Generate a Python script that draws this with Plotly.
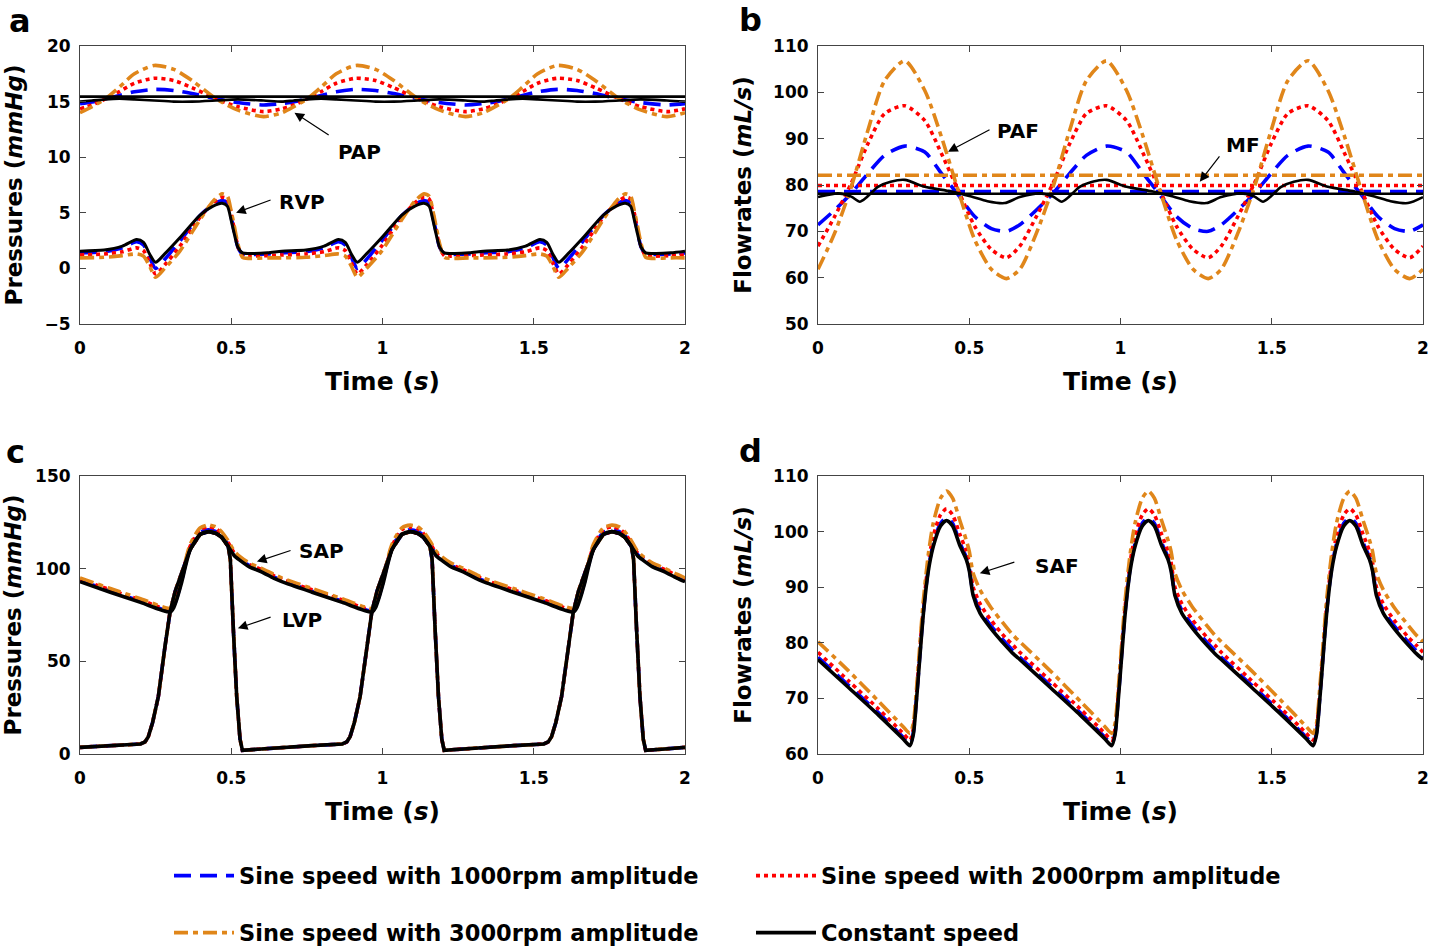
import plotly.graph_objects as go

# ------------------------------------------------------------------ data
# (a) pulmonary arterial pressure PAP (mmHg)
PAP_T = [0, 0.04, 0.084, 0.13, 0.18, 0.245, 0.31, 0.37, 0.45, 0.52, 0.607,
         0.667, 0.707, 0.751, 0.797, 0.847, 0.912, 0.977, 1.037, 1.117, 1.187, 1.274,
         1.333, 1.373, 1.417, 1.463, 1.513, 1.578, 1.643, 1.703, 1.783, 1.853, 1.94,
         2.0]
PAP_1000 = [14.82, 14.97, 15.25, 15.55, 15.88, 16.1, 16.0, 15.72, 15.25, 14.92, 14.7,
            14.82, 14.97, 15.25, 15.55, 15.88, 16.1, 16.0, 15.72, 15.25, 14.92, 14.7,
            14.82, 14.97, 15.25, 15.55, 15.88, 16.1, 16.0, 15.72, 15.25, 14.92, 14.7,
            14.82]
PAP_2000 = [14.35, 14.7, 15.25, 15.9, 16.65, 17.1, 16.9, 16.25, 15.25, 14.55, 14.1,
            14.35, 14.7, 15.25, 15.9, 16.65, 17.1, 16.9, 16.25, 15.25, 14.55, 14.1,
            14.35, 14.7, 15.25, 15.9, 16.65, 17.1, 16.9, 16.25, 15.25, 14.55, 14.1,
            14.35]
PAP_3000 = [14.0, 14.55, 15.25, 16.3, 17.5, 18.25, 17.9, 16.9, 15.25, 14.25, 13.65,
            14.0, 14.55, 15.25, 16.3, 17.5, 18.25, 17.9, 16.9, 15.25, 14.25, 13.65,
            14.0, 14.55, 15.25, 16.3, 17.5, 18.25, 17.9, 16.9, 15.25, 14.25, 13.65,
            14.0]
PAP_CONST = [15.0, 15.1, 15.2, 15.25, 15.2, 15.1, 15.0, 15.0, 15.1, 15.2, 15.1,
             15.0, 15.1, 15.2, 15.25, 15.2, 15.1, 15.0, 15.0, 15.1, 15.2, 15.1,
             15.0, 15.1, 15.2, 15.25, 15.2, 15.1, 15.0, 15.0, 15.1, 15.2, 15.1,
             15.0]
PAP_FLAT_T = [0, 2.0]
PAP_FLAT = [15.45, 15.45]

# (a) right ventricular pressure RVP (mmHg)
RVP_T = [0, 0.08, 0.14, 0.187, 0.21, 0.23, 0.25, 0.28, 0.33, 0.397, 0.44, 0.47, 0.487, 0.5, 0.51, 0.522, 0.537, 0.56, 0.62,
         0.667, 0.747, 0.807, 0.854, 0.877, 0.897, 0.917, 0.947, 0.997, 1.064, 1.107, 1.137, 1.154, 1.167, 1.177, 1.189, 1.204, 1.227, 1.287,
         1.333, 1.413, 1.473, 1.52, 1.543, 1.563, 1.583, 1.613, 1.663, 1.73, 1.773, 1.803, 1.82, 1.833, 1.843, 1.855, 1.87, 1.893, 1.953,
         2.0]
RVP_1000 = [1.4, 1.5, 1.85, 2.4, 2.1, 1.0, 0.0, 0.8, 2.45, 4.75, 5.75, 6.1, 5.9, 4.6, 3.3, 1.9, 1.3, 1.25, 1.3,
            1.4, 1.5, 1.85, 2.4, 2.1, 1.0, 0.0, 0.8, 2.45, 4.75, 5.75, 6.1, 5.9, 4.6, 3.3, 1.9, 1.3, 1.25, 1.3,
            1.4, 1.5, 1.85, 2.4, 2.1, 1.0, 0.0, 0.8, 2.45, 4.75, 5.75, 6.1, 5.9, 4.6, 3.3, 1.9, 1.3, 1.25, 1.3,
            1.4]
RVP_2000 = [1.2, 1.3, 1.5, 1.85, 1.6, 0.5, -0.5, 0.3, 2.0, 4.6, 5.9, 6.4, 6.25, 4.9, 3.5, 2.0, 1.15, 1.1, 1.15,
            1.2, 1.3, 1.5, 1.85, 1.6, 0.5, -0.5, 0.3, 2.0, 4.6, 5.9, 6.4, 6.25, 4.9, 3.5, 2.0, 1.15, 1.1, 1.15,
            1.2, 1.3, 1.5, 1.85, 1.6, 0.5, -0.5, 0.3, 2.0, 4.6, 5.9, 6.4, 6.25, 4.9, 3.5, 2.0, 1.15, 1.1, 1.15,
            1.2]
RVP_3000 = [0.95, 1.0, 1.15, 1.3, 1.1, 0.2, -0.8, 0.0, 1.55, 4.4, 6.05, 6.7, 6.5, 5.1, 3.8, 2.2, 1.0, 0.9, 0.95,
            0.95, 1.0, 1.15, 1.3, 1.1, 0.2, -0.8, 0.0, 1.55, 4.4, 6.05, 6.7, 6.5, 5.1, 3.8, 2.2, 1.0, 0.9, 0.95,
            0.95, 1.0, 1.15, 1.3, 1.1, 0.2, -0.8, 0.0, 1.55, 4.4, 6.05, 6.7, 6.5, 5.1, 3.8, 2.2, 1.0, 0.9, 0.95,
            0.95]
RVP_CONST = [1.55, 1.65, 2.0, 2.6, 2.35, 1.3, 0.55, 1.3, 2.75, 4.8, 5.6, 5.85, 5.6, 4.3, 3.1, 1.9, 1.4, 1.35, 1.4,
             1.55, 1.65, 2.0, 2.6, 2.35, 1.3, 0.55, 1.3, 2.75, 4.8, 5.6, 5.85, 5.6, 4.3, 3.1, 1.9, 1.4, 1.35, 1.4,
             1.55, 1.65, 2.0, 2.6, 2.35, 1.3, 0.55, 1.3, 2.75, 4.8, 5.6, 5.85, 5.6, 4.3, 3.1, 1.9, 1.4, 1.35, 1.4,
             1.55]

# (b) pulmonary arterial flow PAF (mL/s)
PAF_T = [0, 0.055, 0.11, 0.165, 0.22, 0.287, 0.353, 0.408, 0.463, 0.518, 0.573, 0.623,
         0.667, 0.722, 0.777, 0.832, 0.887, 0.954, 1.02, 1.075, 1.13, 1.185, 1.24, 1.29,
         1.333, 1.388, 1.443, 1.498, 1.553, 1.62, 1.686, 1.741, 1.796, 1.851, 1.906, 1.956,
         2.0]
PAF_1000 = [71.4, 74.6, 78.2, 82.5, 86.4, 88.4, 87.1, 82.5, 77.9, 73.2, 70.6, 70.0,
            71.4, 74.6, 78.2, 82.5, 86.4, 88.4, 87.1, 82.5, 77.9, 73.2, 70.6, 70.0,
            71.4, 74.6, 78.2, 82.5, 86.4, 88.4, 87.1, 82.5, 77.9, 73.2, 70.6, 70.0,
            71.4]
PAF_2000 = [66.8, 73.2, 80.4, 88.9, 95.4, 97.1, 93.9, 86.8, 78.9, 71.1, 66.1, 64.3,
            66.8, 73.2, 80.4, 88.9, 95.4, 97.1, 93.9, 86.8, 78.9, 71.1, 66.1, 64.3,
            66.8, 73.2, 80.4, 88.9, 95.4, 97.1, 93.9, 86.8, 78.9, 71.1, 66.1, 64.3,
            66.8]
PAF_3000 = [61.8, 69.6, 79.6, 91.8, 102.5, 106.8, 100.4, 90.4, 78.9, 68.2, 61.8, 59.8,
            61.8, 69.6, 79.6, 91.8, 102.5, 106.8, 100.4, 90.4, 78.9, 68.2, 61.8, 59.8,
            61.8, 69.6, 79.6, 91.8, 102.5, 106.8, 100.4, 90.4, 78.9, 68.2, 61.8, 59.8,
            61.8]
PAF_CONST_T = [0, 0.066, 0.11, 0.138, 0.16, 0.198, 0.24, 0.287, 0.353, 0.44, 0.507, 0.56, 0.617,
               0.667, 0.733, 0.777, 0.805, 0.827, 0.865, 0.907, 0.954, 1.02, 1.107, 1.174, 1.227, 1.284,
               1.333, 1.399, 1.443, 1.471, 1.493, 1.531, 1.573, 1.62, 1.686, 1.773, 1.84, 1.893, 1.95,
               2.0]
PAF_CONST = [77.4, 78.2, 77.5, 76.4, 77.3, 79.6, 80.7, 81.1, 79.6, 78.6, 77.5, 76.5, 76.1,
             77.4, 78.2, 77.5, 76.4, 77.3, 79.6, 80.7, 81.1, 79.6, 78.6, 77.5, 76.5, 76.1,
             77.4, 78.2, 77.5, 76.4, 77.3, 79.6, 80.7, 81.1, 79.6, 78.6, 77.5, 76.5, 76.1,
             77.4]

# (b) mean flow MF (mL/s)
MF_T = [0, 2.0]
MF_1000 = [78.6, 78.6]
MF_2000 = [79.9, 79.9]
MF_3000 = [82.1, 82.1]
MF_CONST = [78.1, 78.1]

# (c) systemic arterial pressure SAP (mmHg)
SAP_T = [0, 0.1, 0.2, 0.298, 0.31, 0.32, 0.335, 0.364, 0.397, 0.425, 0.45, 0.468, 0.49, 0.51, 0.529, 0.56, 0.6, 0.64,
         0.667, 0.767, 0.867, 0.965, 0.977, 0.987, 1.002, 1.031, 1.064, 1.092, 1.117, 1.135, 1.157, 1.177, 1.196, 1.227, 1.267, 1.307,
         1.333, 1.433, 1.533, 1.631, 1.643, 1.653, 1.668, 1.697, 1.73, 1.758, 1.783, 1.801, 1.823, 1.843, 1.862, 1.893, 1.933, 1.973,
         2.0]
SAP_1000 = [93.6, 87.9, 82.4, 77.2, 79.7, 84.2, 92.9, 111.0, 119.6, 121.0, 120.0, 118.0, 113.0, 107.7, 105.1, 101.6, 98.9, 95.6,
            93.6, 87.9, 82.4, 77.2, 79.7, 84.2, 92.9, 111.0, 119.6, 121.0, 120.0, 118.0, 113.0, 107.7, 105.1, 101.6, 98.9, 95.6,
            93.6, 87.9, 82.4, 77.2, 79.7, 84.2, 92.9, 111.0, 119.6, 121.0, 120.0, 118.0, 113.0, 107.7, 105.1, 101.6, 98.9, 95.6,
            93.6]
SAP_2000 = [94.3, 88.6, 83.1, 77.9, 80.5, 85.0, 94.0, 112.0, 121.0, 122.5, 121.5, 119.0, 114.0, 108.5, 105.8, 102.3, 99.5, 96.3,
            94.3, 88.6, 83.1, 77.9, 80.5, 85.0, 94.0, 112.0, 121.0, 122.5, 121.5, 119.0, 114.0, 108.5, 105.8, 102.3, 99.5, 96.3,
            94.3, 88.6, 83.1, 77.9, 80.5, 85.0, 94.0, 112.0, 121.0, 122.5, 121.5, 119.0, 114.0, 108.5, 105.8, 102.3, 99.5, 96.3,
            94.3]
SAP_3000 = [95.0, 89.3, 83.8, 78.6, 81.5, 86.0, 95.0, 113.0, 122.0, 123.5, 122.5, 120.0, 115.0, 109.5, 106.5, 103.0, 100.2, 97.0,
            95.0, 89.3, 83.8, 78.6, 81.5, 86.0, 95.0, 113.0, 122.0, 123.5, 122.5, 120.0, 115.0, 109.5, 106.5, 103.0, 100.2, 97.0,
            95.0, 89.3, 83.8, 78.6, 81.5, 86.0, 95.0, 113.0, 122.0, 123.5, 122.5, 120.0, 115.0, 109.5, 106.5, 103.0, 100.2, 97.0,
            95.0]
SAP_CONST = [93.0, 87.3, 81.8, 76.6, 79.0, 83.5, 92.0, 110.0, 118.5, 120.0, 119.0, 117.0, 112.0, 107.0, 104.5, 101.0, 98.3, 94.9,
             93.0, 87.3, 81.8, 76.6, 79.0, 83.5, 92.0, 110.0, 118.5, 120.0, 119.0, 117.0, 112.0, 107.0, 104.5, 101.0, 98.3, 94.9,
             93.0, 87.3, 81.8, 76.6, 79.0, 83.5, 92.0, 110.0, 118.5, 120.0, 119.0, 117.0, 112.0, 107.0, 104.5, 101.0, 98.3, 94.9,
             93.0]

# (c) left ventricular pressure LVP (mmHg) - the four cases overlap
LVP_T = [0, 0.1, 0.2, 0.215, 0.226, 0.24, 0.259, 0.281, 0.298, 0.315, 0.331, 0.364, 0.397, 0.425, 0.45, 0.468, 0.49, 0.497, 0.507, 0.518, 0.529, 0.537, 0.6,
         0.667, 0.767, 0.867, 0.882, 0.893, 0.907, 0.926, 0.948, 0.965, 0.982, 0.998, 1.031, 1.064, 1.092, 1.117, 1.135, 1.157, 1.164, 1.174, 1.185, 1.196, 1.204, 1.267,
         1.333, 1.433, 1.533, 1.548, 1.559, 1.573, 1.592, 1.614, 1.631, 1.648, 1.664, 1.697, 1.73, 1.758, 1.783, 1.801, 1.823, 1.83, 1.84, 1.851, 1.862, 1.87, 1.933,
         2.0]
LVP = [3.6, 4.5, 5.4, 6.5, 9.4, 17.0, 31.0, 58.0, 77.0, 88.0, 95.0, 110.5, 118.5, 120.0, 119.0, 117.0, 112.0, 105.0, 67.0, 31.0, 8.0, 2.0, 2.7,
       3.6, 4.5, 5.4, 6.5, 9.4, 17.0, 31.0, 58.0, 77.0, 88.0, 95.0, 110.5, 118.5, 120.0, 119.0, 117.0, 112.0, 105.0, 67.0, 31.0, 8.0, 2.0, 2.7,
       3.6, 4.5, 5.4, 6.5, 9.4, 17.0, 31.0, 58.0, 77.0, 88.0, 95.0, 110.5, 118.5, 120.0, 119.0, 117.0, 112.0, 105.0, 67.0, 31.0, 8.0, 2.0, 2.7,
       3.6]

# (d) systemic arterial flow SAF (mL/s)
SAF_T = [0, 0.1, 0.2, 0.28, 0.304, 0.315, 0.326, 0.348, 0.365, 0.381, 0.405, 0.425, 0.445, 0.469, 0.49, 0.5, 0.513, 0.536, 0.57, 0.62, 0.646,
         0.667, 0.767, 0.867, 0.947, 0.971, 0.982, 0.993, 1.015, 1.032, 1.048, 1.072, 1.092, 1.112, 1.136, 1.157, 1.167, 1.18, 1.203, 1.237, 1.287, 1.313,
         1.333, 1.433, 1.533, 1.613, 1.637, 1.648, 1.659, 1.681, 1.698, 1.714, 1.738, 1.758, 1.778, 1.802, 1.823, 1.833, 1.846, 1.869, 1.903, 1.953, 1.979,
         2.0]
SAF_1000 = [77.4, 72.4, 67.4, 63.1, 61.8, 63.8, 70.3, 85.4, 93.4, 97.8, 101.5, 102.5, 101.5, 98.0, 95.4, 93.4, 88.9, 85.8, 83.2, 80.0, 78.5,
            77.4, 72.4, 67.4, 63.1, 61.8, 63.8, 70.3, 85.4, 93.4, 97.8, 101.5, 102.5, 101.5, 98.0, 95.4, 93.4, 88.9, 85.8, 83.2, 80.0, 78.5,
            77.4, 72.4, 67.4, 63.1, 61.8, 63.8, 70.3, 85.4, 93.4, 97.8, 101.5, 102.5, 101.5, 98.0, 95.4, 93.4, 88.9, 85.8, 83.2, 80.0, 78.5,
            77.4]
SAF_2000 = [78.3, 73.2, 68.1, 63.8, 62.5, 64.5, 71.0, 86.2, 94.5, 99.2, 103.0, 104.1, 103.0, 99.5, 96.5, 94.5, 90.0, 87.0, 84.2, 80.9, 79.5,
            78.3, 73.2, 68.1, 63.8, 62.5, 64.5, 71.0, 86.2, 94.5, 99.2, 103.0, 104.1, 103.0, 99.5, 96.5, 94.5, 90.0, 87.0, 84.2, 80.9, 79.5,
            78.3, 73.2, 68.1, 63.8, 62.5, 64.5, 71.0, 86.2, 94.5, 99.2, 103.0, 104.1, 103.0, 99.5, 96.5, 94.5, 90.0, 87.0, 84.2, 80.9, 79.5,
            78.3]
SAF_3000 = [80.2, 75.0, 69.5, 65.0, 63.7, 65.5, 72.0, 87.5, 96.0, 101.5, 106.0, 107.3, 106.0, 102.0, 98.5, 96.5, 92.5, 89.5, 86.5, 83.0, 81.3,
            80.2, 75.0, 69.5, 65.0, 63.7, 65.5, 72.0, 87.5, 96.0, 101.5, 106.0, 107.3, 106.0, 102.0, 98.5, 96.5, 92.5, 89.5, 86.5, 83.0, 81.3,
            80.2, 75.0, 69.5, 65.0, 63.7, 65.5, 72.0, 87.5, 96.0, 101.5, 106.0, 107.3, 106.0, 102.0, 98.5, 96.5, 92.5, 89.5, 86.5, 83.0, 81.3,
            80.2]
SAF_CONST = [77.0, 72.0, 67.0, 62.8, 61.5, 63.5, 70.0, 85.0, 93.0, 97.3, 101.0, 102.0, 101.0, 97.5, 95.0, 93.0, 88.5, 85.3, 82.7, 79.5, 78.0,
             77.0, 72.0, 67.0, 62.8, 61.5, 63.5, 70.0, 85.0, 93.0, 97.3, 101.0, 102.0, 101.0, 97.5, 95.0, 93.0, 88.5, 85.3, 82.7, 79.5, 78.0,
             77.0, 72.0, 67.0, 62.8, 61.5, 63.5, 70.0, 85.0, 93.0, 97.3, 101.0, 102.0, 101.0, 97.5, 95.0, 93.0, 88.5, 85.3, 82.7, 79.5, 78.0,
             77.0]

SERIES_NAMES = ["Sine speed with 1000rpm amplitude", "Sine speed with 2000rpm amplitude",
                "Sine speed with 3000rpm amplitude", "Constant speed"]
X_TICKS = [0, 0.5, 1, 1.5, 2]
X_TICK_TEXT = ["0", "0.5", "1", "1.5", "2"]

# ------------------------------------------------------------------ style
FONT = "DejaVu Sans"
COLORS = ["#0000FF", "#FF0000", "#E0861A", "#000000"]
DASHES = ["17px,9px", "4px,4px", "14px,5px,5px,5px", "solid"]
LEGENDS = ["legend", "legend2", "legend3", "legend4"]
LW = 3.6

FW, FH = 1429, 950


def px(x):
    return x / FW


def py(y):
    return 1 - y / FH


fig = go.Figure()


def add(xa, ya, t, y, i, width=LW, legend=False, shape="spline"):
    fig.add_trace(go.Scatter(
        x=t, y=y, mode="lines", xaxis=xa, yaxis=ya,
        name=SERIES_NAMES[i], legend=LEGENDS[i], showlegend=legend,
        line=dict(color=COLORS[i], dash=DASHES[i], width=width,
                  shape=shape, smoothing=0.7 if shape == "spline" else None),
        hoverinfo="skip"))


# panel a
for i, (pap, rvp) in enumerate(zip([PAP_1000, PAP_2000, PAP_3000, PAP_CONST],
                                   [RVP_1000, RVP_2000, RVP_3000, RVP_CONST])):
    add("x", "y", PAP_T, pap, i, width=(2.6 if i == 3 else LW))
    add("x", "y", RVP_T, rvp, i, width=(3.0 if i == 3 else LW))
add("x", "y", PAP_FLAT_T, PAP_FLAT, 3, width=2.6, shape="linear")

# panel b
for i, (paf, mf) in enumerate(zip([PAF_1000, PAF_2000, PAF_3000],
                                  [MF_1000, MF_2000, MF_3000])):
    add("x2", "y2", PAF_T, paf, i)
    add("x2", "y2", MF_T, mf, i, shape="linear")
add("x2", "y2", PAF_CONST_T, PAF_CONST, 3, width=2.6)
add("x2", "y2", MF_T, MF_CONST, 3, width=2.6, shape="linear")

# panel c
for i, sap in enumerate([SAP_1000, SAP_2000, SAP_3000, SAP_CONST]):
    add("x3", "y3", SAP_T, sap, i)
    add("x3", "y3", LVP_T, LVP, i, shape="linear")

# panel d (this panel also carries the legend entries)
for i, saf in enumerate([SAF_1000, SAF_2000, SAF_3000, SAF_CONST]):
    add("x4", "y4", SAF_T, saf, i, legend=True)

# ------------------------------------------------------------------ axes
XD = {"a": [px(80), px(685)], "b": [px(818), px(1423)]}
YD = {"top": [py(324), py(46)], "bot": [py(754), py(476)]}
tickfont = dict(family=FONT, size=17, color="#000000", weight="bold")
titlefont = dict(family=FONT, size=25, color="#000000", weight="bold")
ytitlefont = dict(family=FONT, size=23, color="#000000", weight="bold")

common_x = dict(range=[0, 2], tickvals=X_TICKS, ticktext=X_TICK_TEXT, ticks="inside",
                ticklen=6, tickcolor="#444444", showline=True, linecolor="#444444",
                linewidth=1, mirror="ticks", showgrid=False, zeroline=False,
                tickfont=tickfont, automargin=False, ticklabeloverflow="allow",
                ticklabelstandoff=9,
                title=dict(text="Time (<i>s</i>)", font=titlefont))
common_y = dict(ticks="inside", ticklen=6, tickcolor="#444444", showline=True,
                linecolor="#444444", linewidth=1, mirror="ticks", showgrid=False,
                zeroline=False, tickfont=tickfont, automargin=False,
                ticklabeloverflow="allow", ticklabelstandoff=5)

legfont = dict(family=FONT, size=22.5, color="#000000", weight="bold")
legend_pos = [(169, 876), (751, 876), (169, 933), (751, 933)]
legends = {}
for name, (lx, ly) in zip(LEGENDS, legend_pos):
    legends[name] = dict(x=px(lx), y=py(ly), xanchor="left", yanchor="middle",
                         font=legfont, bgcolor="rgba(0,0,0,0)", itemwidth=60,
                         borderwidth=0, tracegroupgap=0)

fig.update_layout(
    width=FW, height=FH, margin=dict(l=0, r=0, t=0, b=0, autoexpand=False),
    paper_bgcolor="white", plot_bgcolor="white",
    xaxis=dict(common_x, domain=XD["a"], anchor="y"),
    xaxis2=dict(common_x, domain=XD["b"], anchor="y2"),
    xaxis3=dict(common_x, domain=XD["a"], anchor="y3"),
    xaxis4=dict(common_x, domain=XD["b"], anchor="y4"),
    yaxis=dict(common_y, domain=YD["top"], anchor="x", range=[-5, 20], dtick=5,
               title=dict(text="Pressures (<i>mmHg</i>)", font=ytitlefont)),
    yaxis2=dict(common_y, domain=YD["top"], anchor="x2", range=[50, 110], dtick=10,
                title=dict(text="Flowrates (<i>mL/s</i>)", font=ytitlefont)),
    yaxis3=dict(common_y, domain=YD["bot"], anchor="x3", range=[0, 150], dtick=50,
                title=dict(text="Pressures (<i>mmHg</i>)", font=ytitlefont)),
    yaxis4=dict(common_y, domain=YD["bot"], anchor="x4", range=[60, 110], dtick=10,
                title=dict(text="Flowrates (<i>mL/s</i>)", font=ytitlefont)),
    **legends,
)

# ------------------------------------------------------------------ annotations
labfont = dict(family=FONT, size=20, color="#000000", weight="bold")
# (text, axis suffix, text pos, arrow head, arrow tail)
LABELS = [
    ("PAP", "", (0.924, 10.5), (0.709, 14.0), (0.827, 11.9)),
    ("RVP", "", (0.734, 5.94), (0.516, 5.0), (0.635, 6.2)),
    ("PAF", "2", (0.661, 91.6), (0.430, 87.2), (0.572, 92.1)),
    ("MF", "2", (1.405, 88.6), (1.262, 80.7), (1.331, 86.5)),
    ("SAP", "3", (0.797, 109.6), (0.585, 103.8), (0.701, 110.1)),
    ("LVP", "3", (0.734, 72.3), (0.522, 67.8), (0.635, 74.1)),
    ("SAF", "4", (0.789, 93.8), (0.535, 92.5), (0.654, 94.6)),
]
for text, sfx, tp, head, tail in LABELS:
    xr, yr = "x" + sfx, "y" + sfx
    fig.add_annotation(x=tp[0], y=tp[1], xref=xr, yref=yr, text=text,
                       showarrow=False, font=labfont)
    fig.add_annotation(x=head[0], y=head[1], ax=tail[0], ay=tail[1], xref=xr, yref=yr,
                       axref=xr, ayref=yr, text="", showarrow=True, arrowhead=2,
                       arrowsize=1.6, arrowwidth=1.2, arrowcolor="#000000")

letterfont = dict(family=FONT, size=32, color="#000000", weight="bold")
for letter, lx, ly in [("a", 20, 21), ("b", 750, 20), ("c", 15, 452), ("d", 750, 451)]:
    fig.add_annotation(x=px(lx), y=py(ly), xref="paper", yref="paper", text=letter,
                       showarrow=False, font=letterfont, xanchor="center", yanchor="middle")

# remove the browser's default page margin so the 1429x950 figure fills the window
fig.write_html("out.html",
               config={"displayModeBar": False},
               post_script="document.body.style.margin='0px';"
                           "document.body.style.overflow='hidden';")
